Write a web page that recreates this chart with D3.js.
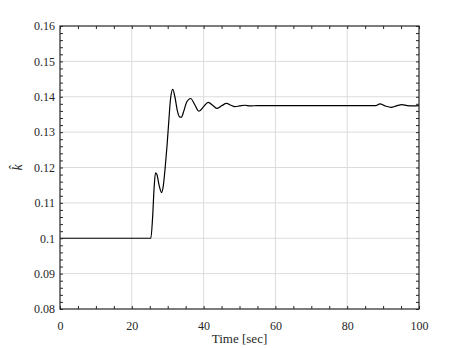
<!DOCTYPE html>
<html><head><meta charset="utf-8">
<script src="https://cdn.jsdelivr.net/npm/d3@7"></script>
<style>body{margin:0;background:#fff}svg{display:block}</style>
</head><body><svg id="c" width="463" height="348" font-family="DejaVu Serif"></svg>
<script>
const timeValues = [0,25.3,25.8,26.2,26.6,27.0,27.6,28.3,28.8,29.3,29.8,30.3,30.8,31.4,32.0,32.7,33.3,33.8,34.5,35.3,36.4,37.5,38.7,40.0,41.3,42.6,43.8,45.1,46.4,47.6,48.7,50.0,51.5,53,55,60,88,89.1,90.6,92.2,93.7,95.2,96.7,98.3,100];
const kHatValues = [0.1,0.1,0.106,0.114,0.1185,0.118,0.115,0.1129,0.115,0.12,0.126,0.133,0.1395,0.1421,0.14,0.136,0.1343,0.1342,0.136,0.1385,0.1395,0.1378,0.1359,0.1372,0.1384,0.1375,0.1367,0.1375,0.1381,0.1376,0.1372,0.1374,0.1376,0.1374,0.1375,0.1375,0.1375,0.138,0.1374,0.137,0.1374,0.1378,0.1375,0.1374,0.1375];
const xTicks = [0,20,40,60,80,100];
const yTicks = [0.08,0.09,0.1,0.11,0.12,0.13,0.14,0.15,0.16];
const yTickLabels = ["0.08","0.09","0.1","0.11","0.12","0.13","0.14","0.15","0.16"];
const xLabel = "Time [sec]";
const yLabel = "k\u0302";
const FONT = "Liberation Serif";

const svg = d3.select("#c");
const L=60, R=419, T=26, B=309;
const x = d3.scaleLinear().domain([0,100]).range([L,R]);
const y = d3.scaleLinear().domain([0.08,0.16]).range([B,T]);

const g = svg.append("g");
g.selectAll(".gx").data(xTicks.slice(1,-1)).join("line")
  .attr("x1",d=>x(d)).attr("x2",d=>x(d)).attr("y1",T).attr("y2",B)
  .attr("stroke","#dcdcdc").attr("stroke-width",1);
g.selectAll(".gy").data(yTicks.slice(1,-1)).join("line")
  .attr("y1",d=>y(d)).attr("y2",d=>y(d)).attr("x1",L).attr("x2",R)
  .attr("stroke","#dcdcdc").attr("stroke-width",1);

const line = d3.line().x((d,i)=>x(timeValues[i])).y(d=>y(d)).curve(d3.curveMonotoneX);
svg.append("path").attr("d",line(kHatValues)).attr("fill","none").attr("stroke","#000").attr("stroke-width",1.2);

const xMinor = d3.range(0,101,5);
const yMinor = d3.range(0,41).map(i=>0.08+i*0.002);
function axisStyle(sel){sel.select(".domain").remove();sel.selectAll(".tick line").attr("stroke","#262626");}
svg.append("g").attr("transform",`translate(0,${B})`).call(d3.axisBottom(x).tickValues(xMinor).tickSize(-3).tickFormat("")).call(axisStyle);
svg.append("g").attr("transform",`translate(0,${T})`).call(d3.axisTop(x).tickValues(xMinor).tickSize(-3).tickFormat("")).call(axisStyle);
svg.append("g").attr("transform",`translate(${L},0)`).call(d3.axisLeft(y).tickValues(yMinor).tickSize(-3).tickFormat("")).call(axisStyle);
svg.append("g").attr("transform",`translate(${R},0)`).call(d3.axisRight(y).tickValues(yMinor).tickSize(-3).tickFormat("")).call(axisStyle);

const xa = svg.append("g").attr("transform",`translate(0,${B})`).call(d3.axisBottom(x).tickValues(xTicks).tickSize(0).tickPadding(12).tickFormat(d3.format("d")));
xa.attr("font-family",FONT).attr("font-size",12);
xa.select(".domain").remove();
xa.selectAll("text").attr("font-family",FONT).attr("fill","#262626");
const ya = svg.append("g").attr("transform",`translate(${L},0)`).call(d3.axisLeft(y).tickValues(yTicks).tickSize(0).tickPadding(5).tickFormat((d,i)=>yTickLabels[i]));
ya.attr("font-family",FONT).attr("font-size",12);
ya.select(".domain").remove();
ya.selectAll("text").attr("font-family",FONT).attr("fill","#262626");

svg.append("rect").attr("x",L).attr("y",T).attr("width",R-L).attr("height",B-T).attr("fill","none").attr("stroke","#262626").attr("stroke-width",1.2);

svg.append("text").attr("font-family",FONT).attr("fill","#262626").attr("x",(L+R)/2).attr("y",343).attr("text-anchor","middle").attr("font-size",13).text(xLabel);
svg.append("text").attr("font-family",FONT).attr("fill","#262626").attr("transform",`translate(22,${(T+B)/2}) rotate(-90)`).attr("text-anchor","middle").attr("font-size",14).attr("font-style","italic").text(yLabel);
</script></body></html>
